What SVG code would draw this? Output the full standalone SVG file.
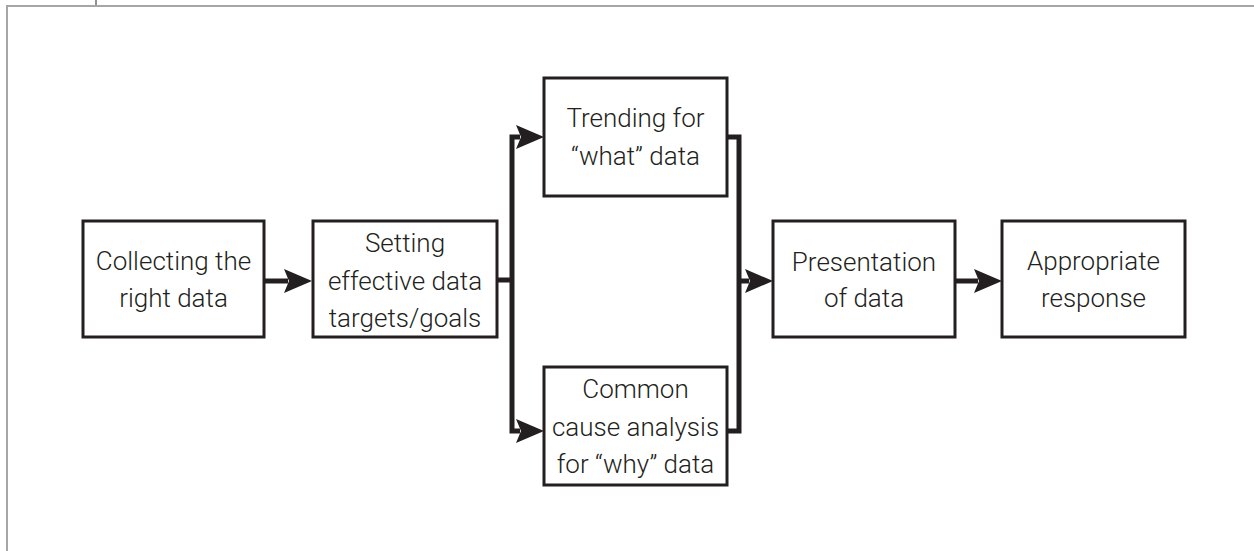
<svg xmlns="http://www.w3.org/2000/svg" width="1254" height="551" viewBox="0 0 1254 551">
<style>
.box{fill:#fff;stroke:#231f20;stroke-width:3}
.t{font-family:Roboto,"Liberation Sans",sans-serif;font-weight:300;font-size:26px;fill:#231f20;text-anchor:middle}
.c{fill:none;stroke:#231f20;stroke-width:5}
.frame{fill:none;stroke:#a6a6a6;stroke-width:2}
</style>
<defs>
<marker id="ah" markerUnits="userSpaceOnUse" markerWidth="28" markerHeight="24" viewBox="0 0 28 24" refX="4" refY="12" orient="auto-start-reverse">
<path d="M0,0 L28,12 L0,24 L5,12 z" fill="#231f20"/>
</marker>
</defs>
<rect width="1254" height="551" fill="#fff"/>
<g id="frame">
<path class="frame" d="M7,551 V6 H1254"/>
<line x1="96" y1="0" x2="96" y2="5" stroke="#231f20" stroke-width="1"/>
</g>
<g id="connectors">
<path class="c" d="M264,281 H288" marker-end="url(#ah)"/>
<path class="c" d="M497,280 H512"/>
<path class="c" d="M520,137 H512 V431 H520" marker-start="url(#ah)" marker-end="url(#ah)"/>
<path class="c" d="M727,137 H739 V431 H727"/>
<path class="c" d="M739,281 H749" marker-end="url(#ah)"/>
<path class="c" d="M955,281 H978" marker-end="url(#ah)"/>
</g>
<g id="n1">
<rect class="box" x="83" y="221" width="181" height="116"/>
<text class="t" x="173.5" y="270">Collecting the</text>
<text class="t" x="173.5" y="307">right data</text>
</g>
<g id="n2">
<rect class="box" x="313" y="221" width="184" height="116"/>
<text class="t" x="405" y="252">Setting</text>
<text class="t" x="405" y="290">effective data</text>
<text class="t" x="405" y="327">targets/goals</text>
</g>
<g id="n3">
<rect class="box" x="544" y="78" width="183" height="118"/>
<text class="t" x="635.5" y="127">Trending for</text>
<text class="t" x="635.5" y="165">“what” data</text>
</g>
<g id="n4">
<rect class="box" x="544" y="367" width="183" height="118"/>
<text class="t" x="635.5" y="398">Common</text>
<text class="t" x="635.5" y="436">cause analysis</text>
<text class="t" x="635.5" y="473">for “why” data</text>
</g>
<g id="n5">
<rect class="box" x="773" y="221" width="182" height="116"/>
<text class="t" x="864" y="271">Presentation</text>
<text class="t" x="864" y="307">of data</text>
</g>
<g id="n6">
<rect class="box" x="1002" y="221" width="183" height="116"/>
<text class="t" x="1093.5" y="270">Appropriate</text>
<text class="t" x="1093.5" y="307">response</text>
</g>
</svg>
